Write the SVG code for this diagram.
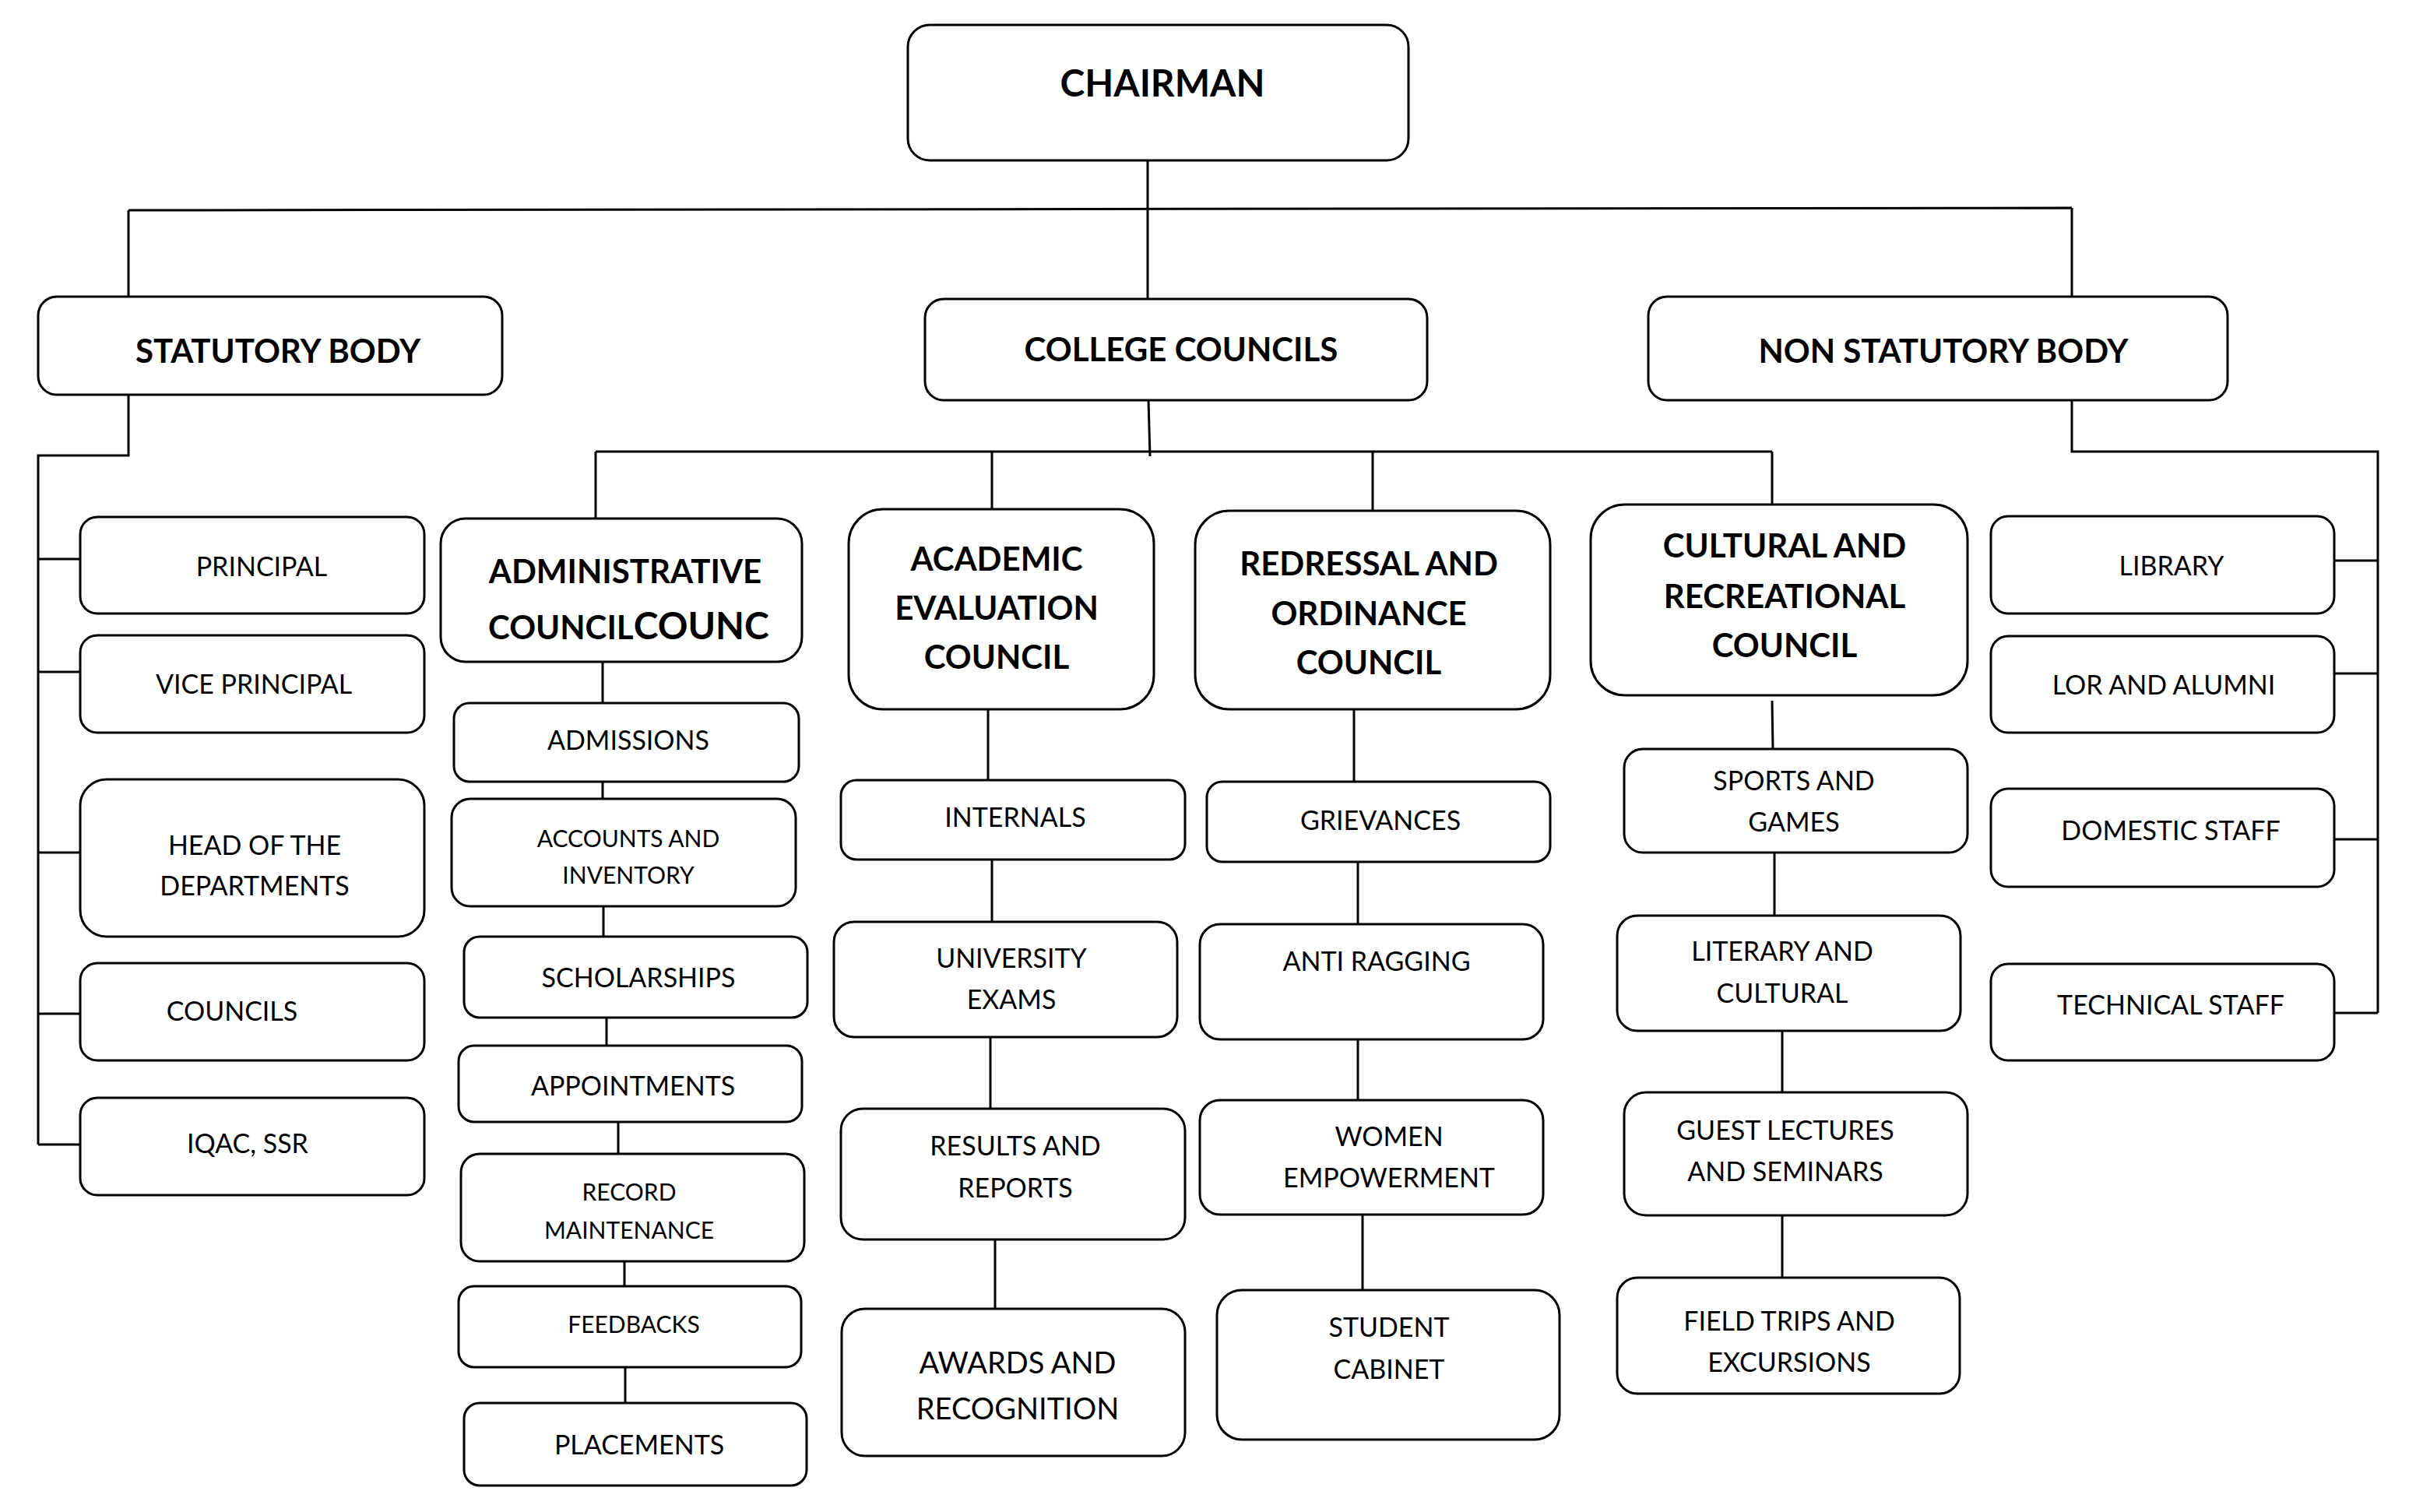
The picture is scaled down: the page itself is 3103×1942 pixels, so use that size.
<svg xmlns="http://www.w3.org/2000/svg" width="3103" height="1942" viewBox="0 0 3103 1942">
<style>
.b{fill:#fff;stroke:#000;stroke-width:3}
.c{fill:none;stroke:#000;stroke-width:3}
text{font-family:Lato,"Open Sans","Liberation Sans",sans-serif;fill:#000;text-anchor:middle}
.h{font-weight:bold;font-size:42px}
.t{font-size:34px}
.s{font-size:30px}
</style>
<rect width="3103" height="1942" fill="#fff"/>
<g id="connectors">
<path class="c" d="M1474 206V384 M165 270L2661 267 M165 270V381 M2661 267V381"/>
<path class="c" d="M165 507V585H49V1470 M49 718H103 M49 863H103 M49 1095H103 M49 1302H103 M49 1470H103"/>
<path class="c" d="M2661 514V580H3054V1301 M2998 720H3054 M2998 865H3054 M2998 1078H3054 M2998 1301H3054"/>
<path class="c" d="M1475 514L1477 586 M765 580H2276 M765 580V666 M1274 580V656 M1763 580V656 M2276 580V650"/>
<path class="c" d="M774 850V903 M774 1004V1026 M775 1164V1203 M779 1307V1343 M794 1441V1482 M802 1620V1652 M803 1756V1802"/>
<path class="c" d="M1269 911V1002 M1274 1104V1184 M1272 1332V1424 M1278 1592V1681"/>
<path class="c" d="M1739 911V1004 M1744 1107V1187 M1744 1335V1413 M1750 1560V1657"/>
<path class="c" d="M2276 900L2277 962 M2279 1095V1176 M2289 1324V1403 M2289 1561V1641"/>
</g>
<g id="chairman"><rect class="b" x="1166" y="32" width="643" height="174" rx="28"/><text class="h" x="1493" y="124" style="font-size:48px">CHAIRMAN</text></g>
<g id="statutory-body"><rect class="b" x="49" y="381" width="596" height="126" rx="24"/><text class="h" x="357" y="466">STATUTORY BODY</text></g>
<g id="college-councils"><rect class="b" x="1188" y="384" width="645" height="130" rx="24"/><text class="h" x="1517" y="464">COLLEGE COUNCILS</text></g>
<g id="non-statutory-body"><rect class="b" x="2117" y="381" width="744" height="133" rx="24"/><text class="h" x="2496" y="466">NON STATUTORY BODY</text></g>

<g id="principal"><rect class="b" x="103" y="664" width="442" height="124" rx="22"/><text class="t" x="336" y="740">PRINCIPAL</text></g>
<g id="vice-principal"><rect class="b" x="103" y="816" width="442" height="125" rx="22"/><text class="t" x="326" y="891">VICE PRINCIPAL</text></g>
<g id="hod"><rect class="b" x="103" y="1001" width="442" height="202" rx="34"/><text class="t" x="327" y="1098">HEAD OF THE</text><text class="t" x="327" y="1150">DEPARTMENTS</text></g>
<g id="councils"><rect class="b" x="103" y="1237" width="442" height="125" rx="22"/><text class="t" x="298" y="1311">COUNCILS</text></g>
<g id="iqac"><rect class="b" x="103" y="1410" width="442" height="125" rx="22"/><text class="t" x="318" y="1481">IQAC, SSR</text></g>

<g id="library"><rect class="b" x="2557" y="663" width="441" height="125" rx="22"/><text class="t" x="2789" y="739">LIBRARY</text></g>
<g id="lor-alumni"><rect class="b" x="2557" y="817" width="441" height="124" rx="22"/><text class="t" x="2779" y="892">LOR AND ALUMNI</text></g>
<g id="domestic-staff"><rect class="b" x="2557" y="1013" width="441" height="126" rx="22"/><text class="t" x="2788" y="1079">DOMESTIC STAFF</text></g>
<g id="technical-staff"><rect class="b" x="2557" y="1238" width="441" height="124" rx="22"/><text class="t" x="2788" y="1303">TECHNICAL STAFF</text></g>

<g id="administrative-council"><rect class="b" x="566" y="666" width="464" height="184" rx="32"/><text class="h" x="803" y="749">ADMINISTRATIVE</text><text class="h" x="627" y="821" style="text-anchor:start">COUNCIL<tspan style="font-size:48px">COUNC</tspan></text></g>
<g id="admissions"><rect class="b" x="583" y="903" width="443" height="101" rx="20"/><text class="t" x="807" y="963">ADMISSIONS</text></g>
<g id="accounts"><rect class="b" x="580" y="1026" width="442" height="138" rx="24"/><text class="s" x="807" y="1088">ACCOUNTS AND</text><text class="s" x="807" y="1135">INVENTORY</text></g>
<g id="scholarships"><rect class="b" x="596" y="1203" width="441" height="104" rx="20"/><text class="t" x="820" y="1268">SCHOLARSHIPS</text></g>
<g id="appointments"><rect class="b" x="589" y="1343" width="441" height="98" rx="20"/><text class="t" x="813" y="1407">APPOINTMENTS</text></g>
<g id="record-maintenance"><rect class="b" x="592" y="1482" width="441" height="138" rx="24"/><text class="s" x="808" y="1542">RECORD</text><text class="s" x="808" y="1591">MAINTENANCE</text></g>
<g id="feedbacks"><rect class="b" x="589" y="1652" width="440" height="104" rx="20"/><text class="s" x="814" y="1712">FEEDBACKS</text></g>
<g id="placements"><rect class="b" x="596" y="1802" width="440" height="106" rx="20"/><text class="t" x="821" y="1868">PLACEMENTS</text></g>

<g id="academic-council"><rect class="b" x="1090" y="654" width="392" height="257" rx="44"/><text class="h" x="1280" y="733">ACADEMIC</text><text class="h" x="1280" y="796">EVALUATION</text><text class="h" x="1280" y="859">COUNCIL</text></g>
<g id="internals"><rect class="b" x="1080" y="1002" width="442" height="102" rx="20"/><text class="t" x="1304" y="1062">INTERNALS</text></g>
<g id="university-exams"><rect class="b" x="1071" y="1184" width="441" height="148" rx="26"/><text class="t" x="1299" y="1243">UNIVERSITY</text><text class="t" x="1299" y="1296">EXAMS</text></g>
<g id="results-reports"><rect class="b" x="1080" y="1424" width="442" height="168" rx="28"/><text class="t" x="1304" y="1484">RESULTS AND</text><text class="t" x="1304" y="1538">REPORTS</text></g>
<g id="awards"><rect class="b" x="1081" y="1681" width="441" height="189" rx="30"/><text x="1307" y="1764" style="font-size:38px">AWARDS AND</text><text x="1307" y="1823" style="font-size:38px">RECOGNITION</text></g>

<g id="redressal-council"><rect class="b" x="1535" y="656" width="456" height="255" rx="44"/><text class="h" x="1758" y="739">REDRESSAL AND</text><text class="h" x="1758" y="803">ORDINANCE</text><text class="h" x="1758" y="866">COUNCIL</text></g>
<g id="grievances"><rect class="b" x="1550" y="1004" width="441" height="103" rx="20"/><text class="t" x="1773" y="1066">GRIEVANCES</text></g>
<g id="anti-ragging"><rect class="b" x="1541" y="1187" width="441" height="148" rx="26"/><text class="t" x="1768" y="1247">ANTI RAGGING</text></g>
<g id="women-empowerment"><rect class="b" x="1541" y="1413" width="441" height="147" rx="26"/><text class="t" x="1784" y="1472">WOMEN</text><text class="t" x="1784" y="1525">EMPOWERMENT</text></g>
<g id="student-cabinet"><rect class="b" x="1563" y="1657" width="440" height="192" rx="32"/><text class="t" x="1784" y="1717">STUDENT</text><text class="t" x="1784" y="1771">CABINET</text></g>

<g id="cultural-council"><rect class="b" x="2043" y="648" width="484" height="245" rx="44"/><text class="h" x="2292" y="716">CULTURAL AND</text><text class="h" x="2292" y="781">RECREATIONAL</text><text class="h" x="2292" y="844">COUNCIL</text></g>
<g id="sports-games"><rect class="b" x="2086" y="962" width="441" height="133" rx="24"/><text class="t" x="2304" y="1015">SPORTS AND</text><text class="t" x="2304" y="1068">GAMES</text></g>
<g id="literary-cultural"><rect class="b" x="2077" y="1176" width="441" height="148" rx="26"/><text class="t" x="2289" y="1234">LITERARY AND</text><text class="t" x="2289" y="1288">CULTURAL</text></g>
<g id="guest-lectures"><rect class="b" x="2086" y="1403" width="441" height="158" rx="28"/><text class="t" x="2293" y="1464">GUEST LECTURES</text><text class="t" x="2293" y="1517">AND SEMINARS</text></g>
<g id="field-trips"><rect class="b" x="2077" y="1641" width="440" height="149" rx="26"/><text class="t" x="2298" y="1709">FIELD TRIPS AND</text><text class="t" x="2298" y="1762">EXCURSIONS</text></g>
</svg>
